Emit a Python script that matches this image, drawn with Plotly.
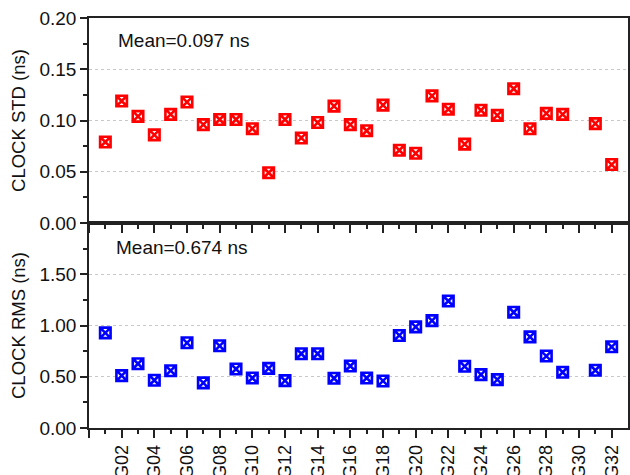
import plotly.graph_objects as go
from plotly.subplots import make_subplots

satellites = ["G%02d" % i for i in range(1, 33)]
clock_std = [0.079, 0.119, 0.104, 0.086, 0.106, 0.118, 0.096, 0.101, 0.101, 0.092,
             0.049, 0.101, 0.083, 0.098, 0.114, 0.096, 0.090, 0.115, 0.071, 0.068,
             0.124, 0.111, 0.077, 0.110, 0.105, 0.131, 0.092, 0.107, 0.106, None,
             0.097, 0.057]
clock_rms = [0.928, 0.511, 0.627, 0.466, 0.559, 0.831, 0.440, 0.802, 0.576, 0.488,
             0.582, 0.462, 0.724, 0.724, 0.485, 0.605, 0.488, 0.459, 0.903, 0.987,
             1.048, 1.239, 0.602, 0.521, 0.472, 1.129, 0.889, 0.702, 0.544, None,
             0.563, 0.792]
std_mean_text = "Mean=0.097 ns"
rms_mean_text = "Mean=0.674 ns"

xpos = list(range(1, len(satellites) + 1))
major_vals = [0] + xpos[1::2]
major_text = [""] + satellites[1::2]
minor_vals = xpos[0::2]

FONT = "Arial, 'Liberation Sans', sans-serif"
AXC = "#222222"
TXT = "#111111"

fig = make_subplots(rows=2, cols=1, shared_xaxes=True, vertical_spacing=0)

fig.add_trace(go.Scatter(x=xpos, y=clock_std, mode="markers", text=satellites,
                         marker=dict(symbol="square-x-open", size=10.5, color="#ff0000",
                                     line=dict(width=2.6, color="#ff0000"))),
              row=1, col=1)
fig.add_trace(go.Scatter(x=xpos, y=clock_rms, mode="markers", text=satellites,
                         marker=dict(symbol="square-x-open", size=10.5, color="#0000ff",
                                     line=dict(width=2.6, color="#0000ff"))),
              row=2, col=1)

xcommon = dict(range=[0, 33], showline=True, linecolor=AXC, linewidth=1.5, mirror=True,
               tickmode="array", tickvals=major_vals, ticktext=major_text,
               ticks="outside", ticklen=8, tickwidth=1.5, tickcolor=AXC,
               minor=dict(tickmode="array", tickvals=minor_vals, ticks="outside",
                          ticklen=4, tickwidth=1.5, tickcolor=AXC),
               showgrid=False, zeroline=False)

fig.update_xaxes(**xcommon, showticklabels=False, row=1, col=1)
fig.update_xaxes(**xcommon, showticklabels=True, tickangle=-90,
                 tickfont=dict(family=FONT, size=18, color=TXT), row=2, col=1)

ycommon = dict(showline=True, linecolor=AXC, linewidth=1.5, mirror=True,
               ticks="outside", ticklen=7, tickwidth=1.5, tickcolor=AXC,
               tickformat=".2f", tickfont=dict(family=FONT, size=19, color=TXT),
               showgrid=True, gridcolor="#c8c8c8", griddash="dot", gridwidth=1,
               zeroline=False)

fig.update_yaxes(**ycommon, range=[0, 0.2], tickmode="linear", tick0=0, dtick=0.05,
                 minor=dict(ticks="outside", dtick=0.025, tick0=0, ticklen=4,
                            tickwidth=1.5, tickcolor=AXC, showgrid=False),
                 title=dict(text="CLOCK STD (ns)", font=dict(family=FONT, size=18.5, color=TXT),
                            standoff=9),
                 row=1, col=1)
fig.update_yaxes(**ycommon, range=[0, 2.0], tickmode="array", tickvals=[0, 0.5, 1.0, 1.5],
                 minor=dict(ticks="outside", tickmode="array",
                            tickvals=[0.25, 0.75, 1.25, 1.75], ticklen=4,
                            tickwidth=1.5, tickcolor=AXC, showgrid=False),
                 title=dict(text="CLOCK RMS (ns)", font=dict(family=FONT, size=18.5, color=TXT),
                            standoff=9),
                 row=2, col=1)

fig.add_annotation(text=std_mean_text, xref="x domain", yref="y domain", x=0.051, y=0.892,
                   xanchor="left", yanchor="middle", showarrow=False,
                   font=dict(family=FONT, size=19, color=TXT))
fig.add_annotation(text=rms_mean_text, xref="x2 domain", yref="y2 domain", x=0.047, y=0.88,
                   xanchor="left", yanchor="middle", showarrow=False,
                   font=dict(family=FONT, size=19, color=TXT))

fig.update_layout(width=630, height=475, showlegend=False,
                  margin=dict(l=89, r=2, t=18, b=47, autoexpand=False),
                  plot_bgcolor="white", paper_bgcolor="white")
fig.update_yaxes(domain=[0.5, 1.0], row=1, col=1)
fig.update_yaxes(domain=[0.0, 0.5], row=2, col=1)

fig.write_html("out.html")
